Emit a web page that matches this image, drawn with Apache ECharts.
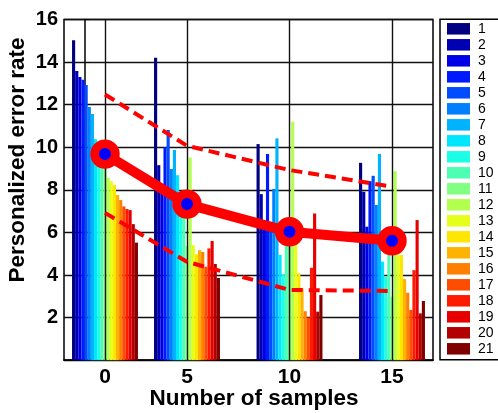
<!DOCTYPE html>
<html><head><meta charset="utf-8">
<script src="https://cdn.jsdelivr.net/npm/echarts@6/dist/echarts.min.js"></script>
<style>html,body{margin:0;padding:0;background:#fff}#c{width:498px;height:413px}</style>
</head><body><div id="c"></div>
<script>
// ---- data ----
const xPositions = [1, 5, 10, 15];
const xTickLabels = ['0', '5', '10', '15'];
const seriesNames = ['1','2','3','4','5','6','7','8','9','10','11','12','13','14','15','16','17','18','19','20','21'];
const rateAt0  = [15.03, 13.58, 13.30, 13.17, 12.92, 11.89, 11.56, 10.38, 9.9, 9.5, 9.2, 8.57, 8.41, 8.23, 7.76, 7.52, 7.22, 7.10, 7.05, 6.39, 5.52];
const rateAt5  = [14.2, 9.16, 8.2, 10.0, 10.81, 8.98, 9.87, 8.69, 7.4, 6.9, 5.36, 9.51, 5.4, 4.97, 5.17, 5.08, 4.39, 5.25, 5.6, 4.52, 3.86];
const rateAt10 = [10.15, 7.8, 6.4, 9.68, 6.5, 8.04, 10.42, 4.94, 4.03, 5.4, 5.8, 11.2, 5.5, 4.08, 3.37, 2.3, 2.0, 4.34, 6.89, 2.28, 3.06];
const rateAt15 = [9.27, 7.91, 6.27, 8.41, 8.66, 7.29, 9.68, 4.63, 3.92, 4.94, 2.98, 8.88, 4.94, 4.94, 3.81, 3.17, 2.36, 4.23, 6.58, 2.2, 2.78];
const meanRate  = [9.68, 7.33, 6.03, 5.61];
const upperRate = [12.48, 10.07, 8.93, 8.15];
const lowerRate = [6.92, 4.62, 3.30, 3.25];

// ---- styles ----
const jetColors = ['#000080','#0000B3','#0000E6','#001AFF','#004DFF','#0080FF','#00B3FF','#00E6FF','#1AFFE6','#4DFFB3','#80FF80','#B3FF4D','#E6FF1A','#FFE600','#FFB300','#FF8000','#FF4D00','#FF1A00','#E60000','#B30000','#800000'];
const FONT = "'Liberation Sans', Arial, Helvetica, sans-serif";

const groups = [rateAt0, rateAt5, rateAt10, rateAt15];
const pairs = (ys) => xPositions.map((x, i) => [x, ys[i]]);

const series = [];
series.push({
  type: 'line', name: '_grid', data: [], silent: true, z: 1,
  markLine: {
    silent: true, symbol: 'none', animation: false,
    label: { show: false },
    lineStyle: { color: '#111', width: 1.4, type: 'solid' },
    data: xPositions.map(x => ({ xAxis: x }))
  }
});
seriesNames.forEach((name, k) => {
  series.push({
    type: 'bar', name: name,
    data: xPositions.map((x, i) => [x, groups[i][k]]),
    barWidth: 3.14, barGap: '0%',
    itemStyle: { color: jetColors[k] },
    z: 2
  });
});
series.push({
  type: 'line', name: 'upper', data: pairs(upperRate), symbol: 'none', z: 5,
  lineStyle: { color: '#ff0000', width: 4, type: [11, 6] }
});
series.push({
  type: 'line', name: 'lower', data: pairs(lowerRate), symbol: 'none', z: 5,
  lineStyle: { color: '#ff0000', width: 4, type: [11, 6] }
});
series.push({
  type: 'line', name: 'mean', data: pairs(meanRate), z: 6,
  lineStyle: { color: '#ff0000', width: 10 },
  symbol: 'circle', symbolSize: 20.7,
  itemStyle: { color: '#0000ff', borderColor: '#ff0000', borderWidth: 8.7 }
});

const chart = echarts.init(document.getElementById('c'), null, { renderer: 'canvas' });
chart.setOption({
  animation: false,
  backgroundColor: '#fff',
  grid: { left: 64, right: 65, top: 19.5, bottom: 52.8, show: true, borderColor: '#000', borderWidth: 1.5, backgroundColor: 'transparent' },
  xAxis: {
    type: 'value', min: -1, max: 17,
    axisLine: { show: true, onZero: false, lineStyle: { color: '#000', width: 1.5 } },
    axisTick: { show: true, inside: true, length: 5, customValues: xPositions, lineStyle: { color: '#000' } },
    axisLabel: {
      customValues: xPositions, margin: 7,
      formatter: (v) => xTickLabels[xPositions.indexOf(v)] ?? '',
      color: '#000', fontSize: 21, fontWeight: 'bold', fontFamily: FONT
    },
    splitLine: { show: false }
  },
  yAxis: {
    type: 'value', min: 0, max: 16, interval: 2,
    axisLine: { show: true, lineStyle: { color: '#000', width: 1.5 } },
    axisTick: { show: true, inside: true, length: 5, lineStyle: { color: '#000' } },
    axisLabel: {
      margin: 6, formatter: (v) => v === 0 ? '' : String(v),
      color: '#000', fontSize: 20, fontWeight: 'bold', fontFamily: FONT
    },
    splitLine: { show: true, lineStyle: { color: '#111', width: 1.4 } }
  },
  legend: {
    data: seriesNames, orient: 'vertical',
    left: 440, top: 19.3,
    padding: [2.5, 12, 4, 7],
    itemWidth: 23, itemHeight: 11.5, itemGap: 2,
    icon: 'rect',
    borderColor: '#000', borderWidth: 1.5,
    textStyle: { color: '#000', fontSize: 14, fontFamily: FONT, padding: [0, 0, 0, 3] }
  },
  graphic: [
    { type: 'text', x: 18, y: 160, rotation: Math.PI / 2,
      style: { text: 'Personalized error rate', fill: '#000', fontSize: 22.5, fontWeight: 'bold', fontFamily: FONT, align: 'center', verticalAlign: 'middle' } },
    { type: 'text', x: 254, y: 399,
      style: { text: 'Number of samples', fill: '#000', fontSize: 22.5, fontWeight: 'bold', fontFamily: FONT, align: 'center', verticalAlign: 'middle' } }
  ],
  series: series
});
</script>
</body></html>
